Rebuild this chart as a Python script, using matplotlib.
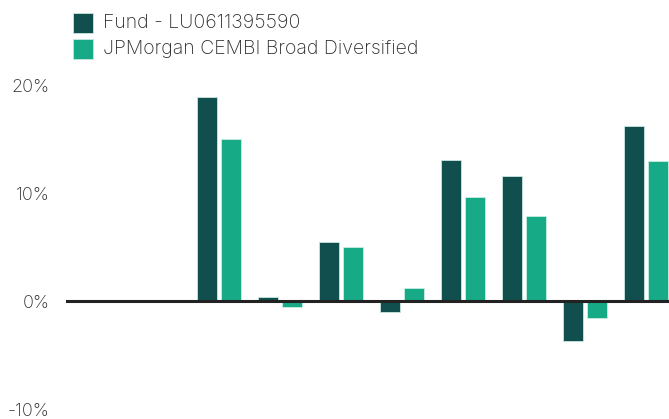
import numpy as np
import matplotlib
matplotlib.use("Agg")
import matplotlib.pyplot as plt
from matplotlib.patches import Rectangle

categories = ["2014", "2015", "2016", "2017", "2018", "2019", "2020", "2021", "2022", "2023"]
fund = [np.nan, np.nan, 18.9, 0.4, 5.5, -1.0, 13.1, 11.6, -3.7, 16.2]
bench = [np.nan, np.nan, 15.0, -0.6, 5.0, 1.2, 9.6, 7.9, -1.6, 13.0]
series_names = ["Fund - LU0611395590", "JPMorgan CEMBI Broad Diversified"]
yticks = [-10, 0, 10, 20]
ytick_labels = ["-10%", "0%", "10%", "20%"]

c_fund = "#114f4e"
c_bench = "#17aa86"
txt = "#2e2e2e"

plt.rcParams['font.family'] = ['Inter', 'DejaVu Sans']

W, H = 669, 419
fig = plt.figure(figsize=(W / 100, H / 100), dpi=100)
ax_left, ax_right = 66, 669
ax_top, ax_bot = 85, 409
ax = fig.add_axes([ax_left / W, (H - ax_bot) / H, (ax_right - ax_left) / W, (ax_bot - ax_top) / H])

x = np.arange(len(categories))
bw = 20 / 61
off = 12 / 61
ax.bar(x - off, fund, width=bw, color=c_fund, edgecolor="#c9e6df", linewidth=0.6)
ax.bar(x + off, bench, width=bw, color=c_bench, edgecolor="#c9efe4", linewidth=0.6)
ax.axhline(0, color="#222222", linewidth=2.2, zorder=5)

ax.set_xlim(-0.5, -0.5 + (ax_right - ax_left) / 61)
ax.set_ylim(-10, 20)
ax.set_yticks(yticks)
ax.set_yticklabels(ytick_labels, fontsize=13, color=txt, fontweight='light')
ax.tick_params(axis='y', length=0, pad=12)
ax.set_xticks([])
for s in ax.spines.values():
    s.set_visible(False)

# legend
for i, (name, col) in enumerate(zip(series_names, [c_fund, c_bench])):
    y0 = 13 + i * 26
    fig.patches.append(Rectangle((73 / W, (H - y0 - 20) / H), 20 / W, 20 / H,
                                 transform=fig.transFigure, facecolor=col,
                                 edgecolor="#c9e6df", linewidth=0.6))
    fig.text(103 / W, (H - y0 - 10) / H, name, fontsize=14, color=txt, va='center', ha='left',
             fontweight='light')

fig.savefig("out.png", dpi=100)
